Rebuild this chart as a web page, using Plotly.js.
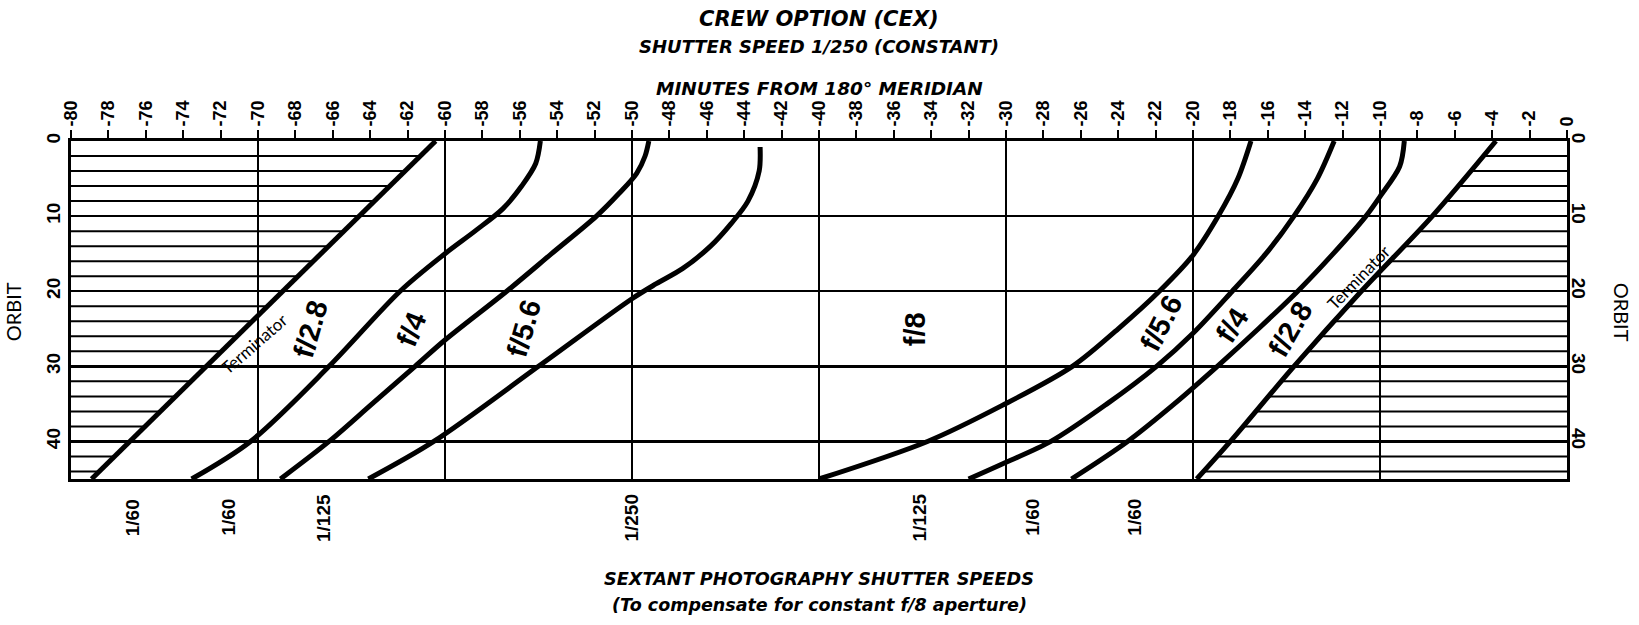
<!DOCTYPE html>
<html>
<head>
<meta charset="utf-8">
<script src="https://cdn.plot.ly/plotly-3.0.1.min.js"></script>
<style>html,body{margin:0;padding:0;background:#fff;}#chart{width:1639px;height:625px;}</style>
</head>
<body>
<div id="chart"></div>
<script>
// ---- data (minutes from 180° meridian vs orbit) ----
const TOP_TICKS = [-80,-78,-76,-74,-72,-70,-68,-66,-64,-62,-60,-58,-56,-54,-52,-50,-48,-46,-44,-42,-40,-38,-36,-34,-32,-30,-28,-26,-24,-22,-20,-18,-16,-14,-12,-10,-8,-6,-4,-2,0];
const TOP_TICK_TEXT = ['-80','-78','-76','-74','-72','-70','-68','-66','-64','-62','-60','-58','-56','-54','-52','-50','-48','-46','-44','-42','-40','-38','-36','-34','-32','-30','-28','-26','-24','-22','-20','-18','-16','-14','-12','-10','-8','-6','-4','-2','0'];
const GRID_X = [-70,-60,-50,-40,-30,-20,-10];
const ORBIT_TICKS = [0,10,20,30,40];
const HATCH_ORBITS = [2,4,6,8,12,14,16,18,22,24,26,28,32,34,36,38,42,44];

// left terminator
const TERM_L_ORBIT = [0, 45];
const TERM_L_MIN   = [-60.5, -78.9];
// left group curves
const CURVE_A_ORBIT = [0, 3, 6, 9, 12, 15, 20, 30, 40, 45];
const CURVE_A_MIN   = [-54.9, -55.15, -55.9, -56.9, -58.4, -60.0, -62.4, -66.2, -70.4, -73.55];
const CURVE_B_ORBIT = [0, 2, 4.3, 7, 10, 15, 20, 26.5, 30, 35, 40, 45];
const CURVE_B_MIN   = [-49.1, -49.3, -49.75, -50.7, -51.9, -54.3, -56.7, -60.0, -61.6, -63.9, -66.2, -68.8];
const CURVE_C_ORBIT = [0.8, 4, 8, 11, 14, 17, 19, 21, 30, 40, 45];
const CURVE_C_MIN   = [-43.15, -43.2, -43.8, -44.7, -45.8, -47.3, -48.7, -50.0, -55.0, -60.6, -64.1];
// right group curves
const CURVE_D_ORBIT = [0, 5, 10, 15.2, 20, 25, 30, 35.2, 40, 45];
const CURVE_D_MIN   = [-16.9, -17.6, -18.65, -20.0, -21.8, -24.0, -26.45, -30.2, -34.2, -40.0];
const CURVE_E_ORBIT = [0, 5, 10, 15, 20, 25.6, 30, 35, 40, 43, 45];
const CURVE_E_MIN   = [-12.45, -13.35, -14.6, -16.1, -17.9, -20.0, -21.95, -24.6, -27.6, -30.2, -32.0];
const CURVE_F_ORBIT = [0, 3.4, 7.4, 10, 15, 20, 25, 30, 35, 40, 45];
const CURVE_F_MIN   = [-8.7, -8.95, -10.0, -10.75, -12.5, -14.4, -16.5, -18.7, -21.0, -23.5, -26.5];
// right terminator
const TERM_R_ORBIT = [0, 10, 20, 30, 40, 45];
const TERM_R_MIN   = [-3.8, -7.2, -11.0, -14.6, -18.0, -19.8];

// region labels
const REGION_TEXT  = ['f/2.8', 'f/4', 'f/5.6', 'f/8', 'f/5.6', 'f/4', 'f/2.8'];
const REGION_MIN   = [-67.2, -61.8, -55.8, -34.9, -21.7, -17.9, -14.8];
const REGION_ORBIT = [25.0, 25.0, 25.0, 25.0, 24.2, 24.5, 25.0];
const REGION_ANGLE = [-74, -68, -74, -90, -63, -57, -60];

const TERM_LABEL_TEXT  = ['Terminator', 'Terminator'];
const TERM_LABEL_MIN   = [-70.2, -11.1];
const TERM_LABEL_ORBIT = [26.9, 18.1];
const TERM_LABEL_ANGLE = [-41, -46];

// sextant shutter speeds below the chart
const SHUTTER_TEXT = ['1/60', '1/60', '1/125', '1/250', '1/125', '1/60', '1/60'];
const SHUTTER_MIN  = [-76.7, -71.55, -66.5, -50.05, -34.6, -28.6, -23.15];

// ---- build ----
const FONT = 'Lato, "Open Sans", "DejaVu Sans", sans-serif';
const TFONT = '"DejaVu Sans", Lato, sans-serif';
const NFONT = '"Liberation Sans", Arial, sans-serif';

function interp(ys, xs, y) {
  for (let i = 0; i < ys.length - 1; i++) {
    if (y >= ys[i] && y <= ys[i + 1]) {
      const t = (y - ys[i]) / (ys[i + 1] - ys[i]);
      return xs[i] + t * (xs[i + 1] - xs[i]);
    }
  }
  return xs[xs.length - 1];
}

const hx = [], hy = [];
HATCH_ORBITS.forEach(h => {
  hx.push(-80, interp(TERM_L_ORBIT, TERM_L_MIN, h), null);
  hy.push(h, h, null);
  hx.push(interp(TERM_R_ORBIT, TERM_R_MIN, h), 0, null);
  hy.push(h, h, null);
});

function curve(xs, ys, smooth) {
  return {type: 'scatter', mode: 'lines', x: xs, y: ys, hoverinfo: 'skip',
    line: {color: '#000', width: 5, shape: smooth ? 'spline' : 'linear', smoothing: 0.9}};
}

const traces = [
  {type: 'scatter', mode: 'lines', x: hx, y: hy, xaxis: 'x2', yaxis: 'y2', hoverinfo: 'skip',
   line: {color: '#000', width: 2}},
  curve(TERM_L_MIN, TERM_L_ORBIT, false),
  curve(CURVE_A_MIN, CURVE_A_ORBIT, true),
  curve(CURVE_B_MIN, CURVE_B_ORBIT, true),
  curve(CURVE_C_MIN, CURVE_C_ORBIT, true),
  curve(CURVE_D_MIN, CURVE_D_ORBIT, true),
  curve(CURVE_E_MIN, CURVE_E_ORBIT, true),
  curve(CURVE_F_MIN, CURVE_F_ORBIT, true),
  curve(TERM_R_MIN, TERM_R_ORBIT, true)
];

const annotations = [];
const ann = (o) => Object.assign({showarrow: false, xanchor: 'center', yanchor: 'middle'}, o);
REGION_TEXT.forEach((t, i) => annotations.push(ann({
  x: REGION_MIN[i], y: REGION_ORBIT[i], xref: 'x', yref: 'y', text: t,
  textangle: REGION_ANGLE[i], font: {family: NFONT, size: 29, color: '#000', weight: 700}
})));
TERM_LABEL_TEXT.forEach((t, i) => annotations.push(ann({
  x: TERM_LABEL_MIN[i], y: TERM_LABEL_ORBIT[i], xref: 'x', yref: 'y', text: t,
  textangle: TERM_LABEL_ANGLE[i], font: {family: FONT, size: 17, color: '#000'}
})));
SHUTTER_TEXT.forEach((t, i) => annotations.push(ann({
  x: SHUTTER_MIN[i], y: -0.114, xref: 'x', yref: 'paper', text: t,
  textangle: -90, font: {family: NFONT, size: 19, color: '#000', weight: 700}
})));
const titleFont = (s) => ({family: TFONT, size: s, color: '#000', weight: 700, style: 'italic'});
annotations.push(
  ann({x: 0.5, y: 1.3615, xref: 'paper', yref: 'paper', text: 'CREW OPTION (CEX)', font: titleFont(21)}),
  ann({x: 0.5, y: 1.2785, xref: 'paper', yref: 'paper', text: 'SHUTTER SPEED 1/250 (CONSTANT)', font: titleFont(18)}),
  ann({x: 0.5, y: 1.154, xref: 'paper', yref: 'paper', text: 'MINUTES FROM 180° MERIDIAN', font: titleFont(18.5)}),
  ann({x: 0.5, y: -0.2948, xref: 'paper', yref: 'paper', text: 'SEXTANT PHOTOGRAPHY SHUTTER SPEEDS', font: titleFont(17.7)}),
  ann({x: 0.5, y: -0.3719, xref: 'paper', yref: 'paper', text: '(To compensate for constant f/8 aperture)', font: titleFont(17.5)}),
  ann({x: -0.0391, y: 0.495, xref: 'paper', yref: 'paper', text: 'ORBIT', textangle: -90,
   font: {family: FONT, size: 20, color: '#000', weight: 400}}),
  ann({x: 1.0368, y: 0.495, xref: 'paper', yref: 'paper', text: 'ORBIT', textangle: 90,
   font: {family: FONT, size: 20, color: '#000', weight: 400}})
);

const tickFont = {family: NFONT, size: 18, color: '#000', weight: 700};
const yTickFont = {family: NFONT, size: 19, color: '#000', weight: 700};
const layout = {
  width: 1639, height: 625,
  margin: {l: 71, r: 72, t: 141, b: 146, pad: 0},
  paper_bgcolor: '#fff', plot_bgcolor: '#fff',
  showlegend: false,
  xaxis: {range: [-80, 0], side: 'top', tickmode: 'array', tickvals: TOP_TICKS, ticktext: TOP_TICK_TEXT,
    tickangle: -90, ticks: 'outside', ticklen: 8, tickwidth: 2, tickcolor: '#000',
    showline: true, linewidth: 3, linecolor: '#000', mirror: true, showgrid: false, zeroline: false,
    tickfont: tickFont, fixedrange: true},
  xaxis2: {range: [-80, 0], overlaying: 'x', side: 'bottom', tickmode: 'array', tickvals: GRID_X,
    showgrid: true, gridcolor: '#000', gridwidth: 2.5, showticklabels: false, ticks: '',
    showline: false, zeroline: false, fixedrange: true},
  yaxis: {range: [45, 0], tickmode: 'array', tickvals: ORBIT_TICKS, tickangle: -90, ticks: '',
    showgrid: true, gridcolor: '#000', gridwidth: 2.5, showline: true, linewidth: 3, linecolor: '#000',
    mirror: true, zeroline: false, tickfont: yTickFont, fixedrange: true},
  yaxis2: {range: [45, 0], overlaying: 'y', side: 'right', tickmode: 'array', tickvals: ORBIT_TICKS,
    tickangle: 90, ticks: '', showgrid: false, showline: false, zeroline: false,
    tickfont: yTickFont, fixedrange: true},
  annotations: annotations
};

Plotly.newPlot('chart', traces, layout, {staticPlot: true, displayModeBar: false});
</script>
</body>
</html>
